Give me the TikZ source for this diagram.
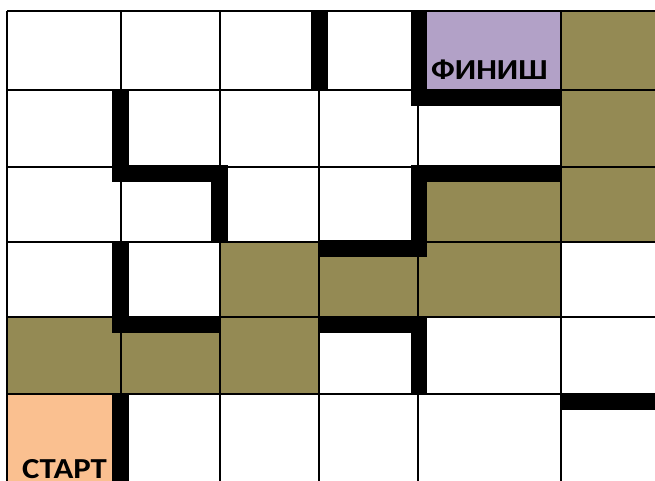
\documentclass[tikz,border=0pt]{standalone}
\usepackage{fontspec}
\setmainfont{Carlito}
\newfontfamily\labelfont[FakeStretch=1.13]{Carlito}
\definecolor{olive}{HTML}{948A54}
\definecolor{finish}{HTML}{B2A1C7}
\definecolor{start}{HTML}{FAC090}
\begin{document}
\begin{tikzpicture}[x=1pt,y=-1pt,
  gridline/.style={line width=2pt,black},
  wall/.style={fill=black,draw=none},
  label/.style={font=\labelfont\bfseries\fontsize{29}{29}\selectfont,anchor=base west,inner sep=0pt}]
\useasboundingbox[fill=white] (0,0) rectangle (655,481);
% coloured cells
\fill[finish] (418,11) rectangle (561,90);
\fill[start] (7,394) rectangle (121,481);
\fill[olive] (561,11) rectangle (655,242);
\fill[olive] (418,167) rectangle (561,242);
\fill[olive] (220,242) rectangle (561,317);
\fill[olive] (7,317) rectangle (319,394);
% grid
\foreach \x in {7,121,220,319,418,561}
  \draw[gridline] (\x,11) -- (\x,481);
\foreach \y in {11,90,167,242,317,394}
  \draw[gridline] (7,\y) -- (655,\y);
% walls
\fill[wall] (311,11) rectangle (328,90);
\fill[wall] (411,11) rectangle (427,106);
\fill[wall] (411,90) rectangle (561,106);
\fill[wall] (112,90) rectangle (129,182);
\fill[wall] (112,165) rectangle (228,182);
\fill[wall] (211,165) rectangle (228,242);
\fill[wall] (411,165) rectangle (561,182);
\fill[wall] (411,165) rectangle (427,257);
\fill[wall] (319,240) rectangle (427,257);
\fill[wall] (112,242) rectangle (129,333);
\fill[wall] (112,316) rectangle (220,333);
\fill[wall] (319,316) rectangle (427,333);
\fill[wall] (411,316) rectangle (427,393);
\fill[wall] (112,394) rectangle (129,481);
\fill[wall] (561,393) rectangle (655,410);
% labels
\node[label] (finish) at (431,80) {ФИНИШ};
\node[label] (start) at (22,478) {СТАРТ};
\end{tikzpicture}
\end{document}
